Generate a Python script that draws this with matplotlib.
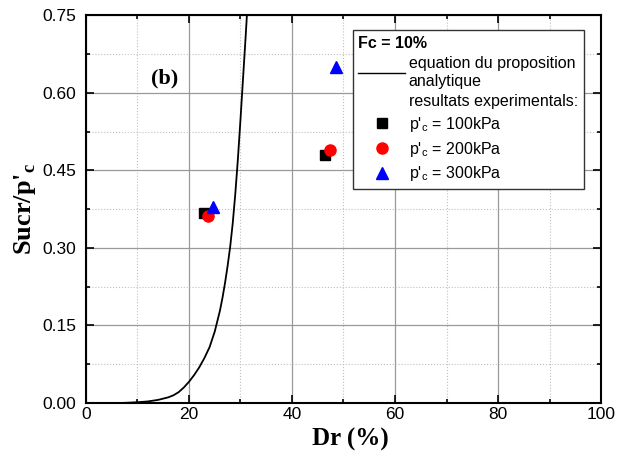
import matplotlib.pyplot as plt
from matplotlib.lines import Line2D
from matplotlib.ticker import MultipleLocator

# analytical curve
Dr_curve = [6.5, 8, 10, 12, 14, 16, 17, 18, 19, 20, 21, 22, 23, 24, 25, 26, 26.5,
            27, 27.5, 28, 28.5, 29, 29.5, 30, 30.5, 31, 31.25]
S_curve = [0.0, 0.0005, 0.0015, 0.003, 0.006, 0.011, 0.015, 0.021, 0.030, 0.041,
           0.054, 0.069, 0.087, 0.108, 0.138, 0.178, 0.203, 0.232, 0.265, 0.302,
           0.348, 0.405, 0.472, 0.548, 0.628, 0.708, 0.75]

# experimental points
Dr_100 = [22.9, 46.4]
S_100 = [0.367, 0.479]
Dr_200 = [23.7, 47.4]
S_200 = [0.361, 0.489]
Dr_300 = [24.7, 48.5]
S_300 = [0.379, 0.650]

plt.rcParams['font.family'] = 'Liberation Sans'
plt.rcParams['mathtext.fontset'] = 'custom'

fig = plt.figure(figsize=(6.32, 4.59), dpi=100)
ax = fig.add_axes([0.136, 0.122, 0.815, 0.845])

ax.plot(Dr_curve, S_curve, '-k', linewidth=1.3, zorder=3)
ax.plot(Dr_100, S_100, 's', color='black', markersize=7, linestyle='none', zorder=4)
ax.plot(Dr_200, S_200, 'o', color='red', markersize=8, linestyle='none', zorder=5)
ax.plot(Dr_300, S_300, '^', color='blue', markersize=8.5, linestyle='none', zorder=6)

ax.set_xlim(0, 100)
ax.set_ylim(0, 0.75)
ax.xaxis.set_major_locator(MultipleLocator(20))
ax.xaxis.set_minor_locator(MultipleLocator(10))
ax.yaxis.set_major_locator(MultipleLocator(0.15))
ax.yaxis.set_minor_locator(MultipleLocator(0.075))
ax.yaxis.set_major_formatter(plt.FormatStrFormatter('%.2f'))

ax.grid(which='major', color='#9a9a9a', linewidth=0.9, linestyle='-')
ax.grid(which='minor', color='#c0c0c0', linewidth=0.8, linestyle=':')
ax.set_axisbelow(True)

ax.tick_params(which='both', direction='in', top=True, right=True, labelsize=12.5, width=1.2)
ax.tick_params(which='major', length=6)
ax.tick_params(which='minor', length=3)
ax.tick_params(axis='y', pad=7)
ax.tick_params(axis='x', pad=3)
for s in ax.spines.values():
    s.set_linewidth(1.5)

ax.set_xlabel('Dr (%)', fontsize=18, fontweight='bold', family='Liberation Serif', labelpad=3)
ax.xaxis.set_label_coords(0.513, -0.065)
ax.set_ylabel("Sucr/p'$_\\mathregular{c}$", fontsize=19, fontweight='bold',
              family='Liberation Serif', labelpad=3)

ax.text(15.3, 0.628, '(b)', fontsize=16, fontweight='bold', family='Liberation Serif',
        ha='center', va='center')

handles = [
    Line2D([], [], color='black', linewidth=1.0),
    Line2D([], [], linestyle='none'),
    Line2D([], [], marker='s', color='black', markersize=7, linestyle='none'),
    Line2D([], [], marker='o', color='red', markersize=8, linestyle='none'),
    Line2D([], [], marker='^', color='blue', markersize=8.5, linestyle='none'),
]
labels = [
    'equation du proposition\nanalytique',
    'resultats experimentals:',
    "p'$_\\mathregular{c}$ = 100kPa",
    "p'$_\\mathregular{c}$ = 200kPa",
    "p'$_\\mathregular{c}$ = 300kPa",
]
leg = ax.legend(handles, labels, loc='upper left', bbox_to_anchor=(0.518, 0.961),
                borderaxespad=0, fontsize=11.5, title='Fc = 10%',
                title_fontproperties={'weight': 'bold', 'size': 11.5},
                alignment='left', fancybox=False, edgecolor='#333333',
                framealpha=1, handlelength=2.9, handletextpad=0.25,
                labelspacing=0.35, borderpad=0.35)
leg.get_frame().set_linewidth(1.0)

fig.savefig('out.png', dpi=100)
